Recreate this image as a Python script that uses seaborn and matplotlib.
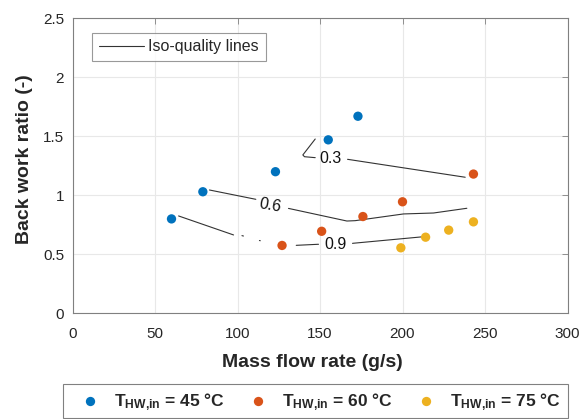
import numpy as np
import pandas as pd
import matplotlib
matplotlib.use("Agg")
import matplotlib.pyplot as plt
import seaborn as sns
from matplotlib.lines import Line2D
from matplotlib.patches import Rectangle

# ---- data ----
x45 = [60, 79, 123, 155, 173]
y45 = [0.80, 1.03, 1.20, 1.47, 1.67]
x60 = [127, 151, 176, 200, 243]
y60 = [0.575, 0.695, 0.82, 0.945, 1.18]
x75 = [199, 214, 228, 243]
y75 = [0.555, 0.645, 0.705, 0.775]
series_labels = [r"$\mathbf{T_{HW{,}in}}$ = 45 °C",
                 r"$\mathbf{T_{HW{,}in}}$ = 60 °C",
                 r"$\mathbf{T_{HW{,}in}}$ = 75 °C"]

iso03_x = [147.1, 139.6, 140.6, 147.1, np.nan, 166.7, 238.0]
iso03_y = [1.477, 1.342, 1.327, 1.319, np.nan, 1.305, 1.153]
iso06_x = [83.0, 111.1, np.nan, 130.9, 166.3, 171.3, 200.6, 218.8, 239.0]
iso06_y = [1.045, 0.966, np.nan, 0.889, 0.782, 0.785, 0.842, 0.850, 0.890]
iso09_x = [64.3, 97.6, np.nan, 102.7, 103.6, np.nan, 113.3, 113.8, np.nan, 135.6, 149.1, np.nan, 169.7, 212.7]
iso09_y = [0.825, 0.664, np.nan, 0.658, 0.655, np.nan, 0.617, 0.615, np.nan, 0.576, 0.585, np.nan, 0.593, 0.649]
iso_labels = ["0.3", "0.6", "0.9"]
iso_label_x = [156.3, 120.0, 159.4]
iso_label_y = [1.310, 0.915, 0.579]
iso_label_rot = [0, -10, 0]

xticks = [0, 50, 100, 150, 200, 250, 300]
yticks = [0, 0.5, 1, 1.5, 2, 2.5]
ytick_labels = ["0", "0.5", "1", "1.5", "2", "2.5"]

colors = ["#0072BD", "#D95319", "#EDB120"]

df = pd.DataFrame({
    "x": x45 + x60 + x75,
    "y": y45 + y60 + y75,
    "series": [series_labels[0]] * len(x45) + [series_labels[1]] * len(x60) + [series_labels[2]] * len(x75),
})

sns.set_style("white")
plt.rcParams["font.family"] = ["Liberation Sans", "DejaVu Sans"]
plt.rcParams["mathtext.fontset"] = "custom"
plt.rcParams["mathtext.rm"] = "Liberation Sans"
plt.rcParams["mathtext.bf"] = "Liberation Sans:bold"
plt.rcParams["mathtext.it"] = "Liberation Sans:italic"

W, H = 583, 419
fig = plt.figure(figsize=(W / 100, H / 100), dpi=100)
ax = fig.add_axes([72.5 / W, 1 - 313.3 / H, (567.5 - 72.5) / W, (313.3 - 18.3) / H])

axis_col = "#808080"
ax.grid(True, color="#e8e8e8", linewidth=0.8)
ax.set_axisbelow(True)

iso_col = "#333333"
line_handle, = ax.plot(iso03_x, iso03_y, color=iso_col, lw=0.8, label="Iso-quality lines")
ax.plot(iso06_x, iso06_y, color=iso_col, lw=0.8)
ax.plot(iso09_x, iso09_y, color=iso_col, lw=0.8)
for t, lx, ly, r in zip(iso_labels, iso_label_x, iso_label_y, iso_label_rot):
    ax.text(lx, ly, t, fontsize=11.5, ha="center", va="center", rotation=r, color="#111111")

sns.scatterplot(data=df, x="x", y="y", hue="series", palette=colors, s=45,
                edgecolor="none", ax=ax, legend=False, zorder=3)

ax.set_xlim(0, 300)
ax.set_ylim(0, 2.5)
ax.set_xticks(xticks)
ax.set_xticklabels([str(v) for v in xticks])
ax.set_yticks(yticks)
ax.set_yticklabels(ytick_labels)
ax.tick_params(direction="in", length=4, width=0.6, color=axis_col, labelsize=11,
               labelcolor="#262626", top=True, right=True)
ax.tick_params(axis="x", pad=10.2)
ax.tick_params(axis="y", pad=6)
for s in ax.spines.values():
    s.set_visible(True)
    s.set_color(axis_col)
    s.set_linewidth(0.8)

ax.set_xlabel("Mass flow rate (g/s)", fontsize=14, fontweight="bold", color="#262626", labelpad=9)
ax.set_ylabel("Back work ratio (-)", fontsize=14, fontweight="bold", color="#262626", labelpad=7.5)
ax.xaxis.label.set_x((312.5 - 72.5) / 495)
ax.yaxis.label.set_y((313.3 - 159.5) / 295)

leg1 = ax.legend(handles=[line_handle], loc="upper left",
                 bbox_to_anchor=((92.3 - 72.5) / 495, (313.3 - 32.7) / 295),
                 borderaxespad=0, fontsize=11.5, frameon=True, fancybox=False, edgecolor="#808080",
                 handlelength=2.84, borderpad=0.42, handletextpad=0.25)
leg1.get_frame().set_linewidth(0.8)

handles = [Line2D([], [], marker="o", linestyle="none", markersize=6.7, color=c,
                  markeredgecolor="none") for c in colors]
leg2 = fig.legend(handles=handles, labels=series_labels, loc="center left",
                  bbox_to_anchor=(81.3 / W, 1 - 402.5 / H), borderaxespad=0, borderpad=0,
                  ncol=3, frameon=False, prop={"weight": "bold", "size": 12.5},
                  handlelength=1.0, handletextpad=0.88, columnspacing=1.43)
fig.patches.append(Rectangle((62.5 / W, 1 - 418.3 / H), (568.3 - 62.5) / W, 34 / H,
                             transform=fig.transFigure, fill=False, edgecolor="#808080",
                             linewidth=0.8))

fig.savefig("out.png", dpi=100)
